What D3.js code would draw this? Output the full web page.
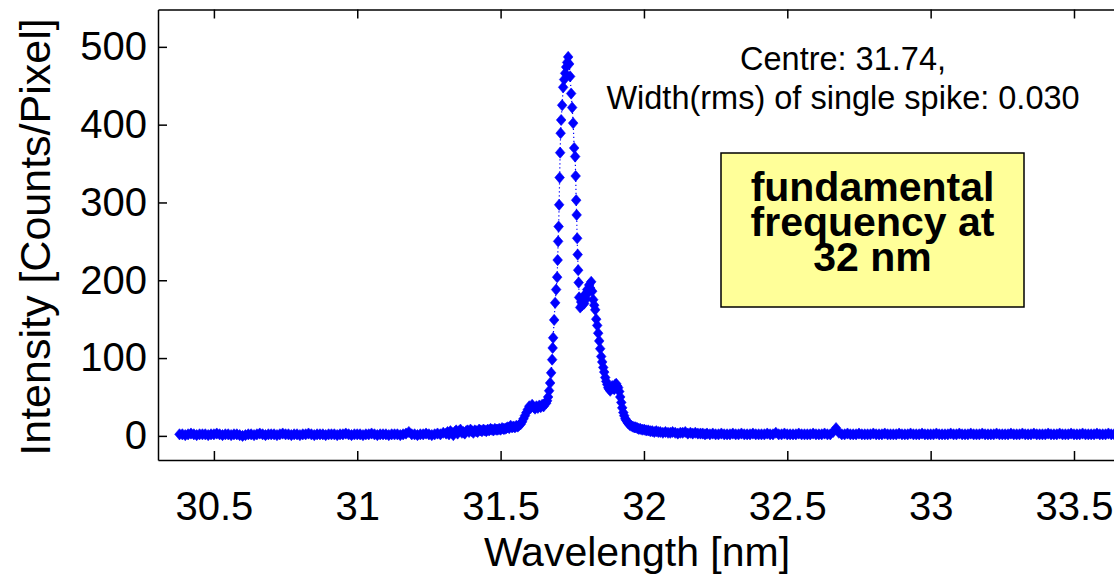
<!DOCTYPE html>
<html>
<head>
<meta charset="utf-8">
<script src="https://cdn.jsdelivr.net/npm/d3@7"></script>
<style>
  body { margin: 0; background: #fff; }
  svg { display: block; font-family: "Liberation Sans", Arial, sans-serif; }
</style>
</head>
<body>
<svg id="chart" width="1114" height="584"></svg>
<script>
// Spectrum: wavelength [nm] and intensity [counts/pixel]
// flat background left of the line
const baseWl = [
  30.38, 30.39, 30.40, 30.41, 30.42, 30.43, 30.44, 30.45, 30.46, 30.47,
  30.48, 30.49, 30.50, 30.51, 30.52, 30.53, 30.54, 30.55, 30.56, 30.57,
  30.58, 30.59, 30.60, 30.61, 30.62, 30.63, 30.64, 30.65, 30.66, 30.67,
  30.68, 30.69, 30.70, 30.71, 30.72, 30.73, 30.74, 30.75, 30.76, 30.77,
  30.78, 30.79, 30.80, 30.81, 30.82, 30.83, 30.84, 30.85, 30.86, 30.87,
  30.88, 30.89, 30.90, 30.91, 30.92, 30.93, 30.94, 30.95, 30.96, 30.97,
  30.98, 30.99, 31.00, 31.01, 31.02, 31.03, 31.04, 31.05, 31.06, 31.07,
  31.08, 31.09, 31.10, 31.11, 31.12, 31.13, 31.14, 31.15, 31.16, 31.17,
  31.18, 31.19, 31.20, 31.21, 31.22, 31.23, 31.24, 31.25, 31.26, 31.27,
  31.28, 31.29, 31.30];
const baseVal = [
  2, 2, 1, 2, 3, 2, 1, 2, 2, 2,
  1, 2, 2, 3, 2, 1, 2, 2, 1, 2,
  2, 1, 0, 1, 2, 2, 1, 2, 3, 2,
  1, 2, 2, 2, 1, 2, 3, 2, 2, 1,
  2, 2, 1, 2, 2, 3, 2, 1, 2, 2,
  2, 1, 2, 2, 2, 1, 2, 2, 3, 2,
  1, 2, 2, 2, 1, 2, 2, 3, 2, 1,
  2, 2, 2, 1, 2, 2, 2, 1, 2, 3,
  5, 2, 2, 1, 2, 2, 3, 2, 1, 2,
  3, 2, 4];

// noisy rise and small shoulder before the line
const shoulderWl = [
  31.310, 31.315, 31.320, 31.325, 31.330, 31.335, 31.340, 31.345, 31.350, 31.355,
  31.360, 31.365, 31.370, 31.375, 31.380, 31.385, 31.390, 31.395, 31.400, 31.405,
  31.410, 31.415, 31.420, 31.425, 31.430, 31.435, 31.440, 31.445, 31.450, 31.455,
  31.460, 31.465, 31.470, 31.475, 31.480, 31.485, 31.490, 31.495, 31.500, 31.505,
  31.510, 31.515, 31.520, 31.525, 31.530, 31.535, 31.540, 31.545, 31.550, 31.555,
  31.560, 31.565, 31.570, 31.575, 31.580, 31.585, 31.590, 31.595, 31.600, 31.605,
  31.610, 31.615, 31.620, 31.625, 31.630, 31.635, 31.640, 31.645, 31.650, 31.655];
const shoulderVal = [
  3, 5, 2, 6, 4, 1, 5, 7, 3, 6,
  8, 4, 5, 3, 6, 7, 5, 8, 6, 4,
  7, 6, 5, 8, 7, 6, 8, 7, 6, 8,
  7, 9, 8, 7, 9, 8, 8, 9, 8, 10,
  9, 9, 10, 11, 10, 13, 11, 12, 11, 13,
  12, 14, 15, 18, 22, 26, 30, 34, 38, 36,
  40, 37, 35, 38, 36, 39, 37, 40, 38, 42];

// main spike and the side structure
const peakWl = [
  31.6588, 31.6623, 31.6658, 31.6693, 31.6728, 31.6763, 31.6798, 31.6816, 31.6833, 31.6868,
  31.6902, 31.6937, 31.6972, 31.6990, 31.7007, 31.7024, 31.7042, 31.7059, 31.7077, 31.7094,
  31.7112, 31.7147, 31.7182, 31.7217, 31.7252, 31.7287, 31.7322, 31.7357,
  31.7392, 31.7426, 31.7461, 31.7496, 31.7531, 31.7566, 31.7601, 31.7618, 31.7636, 31.7653,
  31.7671, 31.7688, 31.7706, 31.7723, 31.7740, 31.7776, 31.7810, 31.7846, 31.7880, 31.7915,
  31.7950, 31.7985, 31.8020, 31.8055, 31.8090, 31.8125, 31.8160, 31.8195, 31.8230, 31.8265,
  31.8300, 31.8335, 31.8370, 31.8404, 31.8440, 31.8474, 31.8510, 31.8544, 31.8580, 31.8614,
  31.8650, 31.8684, 31.8720];
const peakVal = [
  42, 45, 50, 58, 68, 81, 98, 113, 126, 149,
  171, 188, 204, 226, 250, 269, 297, 332, 364, 389,
  406, 425, 448, 458, 466, 474, 480, 487,
  478, 462, 440, 422, 402, 370, 359, 334, 303, 284,
  254, 233, 213, 197, 178, 165, 172, 168, 178, 170,
  182, 176, 188, 184, 194, 190, 198, 186, 175, 168,
  162, 150, 142, 132, 122, 112, 102, 95, 88, 82,
  75, 70, 66];

// second bump and decay
const decayWl = [
  31.8754, 31.8790, 31.8823, 31.8860, 31.8893, 31.8930, 31.8963, 31.9000, 31.9033, 31.9070,
  31.9103, 31.9140, 31.9173, 31.9210, 31.9242, 31.9280, 31.9312, 31.9350, 31.9382, 31.9420,
  31.9452, 31.9500, 31.9557, 31.9610, 31.9662, 31.9710, 31.9766, 31.9820, 31.9871, 31.9940,
  32.001, 32.008, 32.015, 32.022, 32.029, 32.036, 32.043, 32.050, 32.057, 32.066,
  32.075, 32.084, 32.092, 32.100, 32.109, 32.118, 32.127, 32.135, 32.144, 32.153,
  32.162, 32.170, 32.179, 32.188, 32.197, 32.205, 32.213];
const decayVal = [
  62, 60, 58, 62, 64, 61, 60, 66, 67, 64,
  62, 57, 50, 43, 36, 30, 26, 22, 20, 18,
  16, 14, 13, 12, 11, 11, 10, 9, 9, 8,
  8, 7, 7, 6, 6, 5, 6, 5, 5, 4,
  5, 4, 4, 5, 4, 3, 4, 4, 5, 3,
  4, 3, 4, 3, 3, 3, 2];

// flat background right of the line
const tailWl = [
  32.22, 32.23, 32.24, 32.25, 32.26, 32.27, 32.28, 32.29, 32.30, 32.31,
  32.32, 32.33, 32.34, 32.35, 32.36, 32.37, 32.38, 32.39, 32.40, 32.41,
  32.42, 32.43, 32.44, 32.45, 32.46, 32.47, 32.48, 32.49, 32.50, 32.51,
  32.52, 32.53, 32.54, 32.55, 32.56, 32.57, 32.58, 32.59, 32.60, 32.61,
  32.62, 32.63, 32.64, 32.65, 32.66, 32.67, 32.68, 32.69, 32.70, 32.71,
  32.72, 32.73, 32.74, 32.75, 32.76, 32.77, 32.78, 32.79, 32.80, 32.81,
  32.82, 32.83, 32.84, 32.85, 32.86, 32.87, 32.88, 32.89, 32.90, 32.91,
  32.92, 32.93, 32.94, 32.95, 32.96, 32.97, 32.98, 32.99, 33.00, 33.01,
  33.02, 33.03, 33.04, 33.05, 33.06, 33.07, 33.08, 33.09, 33.10, 33.11,
  33.12, 33.13, 33.14, 33.15, 33.16, 33.17, 33.18, 33.19, 33.20, 33.21,
  33.22, 33.23, 33.24, 33.25, 33.26, 33.27, 33.28, 33.29, 33.30, 33.31,
  33.32, 33.33, 33.34, 33.35, 33.36, 33.37, 33.38, 33.39, 33.40, 33.41,
  33.42, 33.43, 33.44, 33.45, 33.46, 33.47, 33.48, 33.49, 33.50, 33.51,
  33.52, 33.53, 33.54, 33.55, 33.56, 33.57, 33.58, 33.59, 33.60, 33.61,
  33.62, 33.63, 33.64, 33.65, 33.66, 33.67, 33.68, 33.69, 33.70, 33.71,
  33.72, 33.73, 33.74, 33.75, 33.76, 33.77, 33.78, 33.79, 33.80];
const tailVal = [
  3, 2, 3, 2, 2, 3, 2, 2, 2, 3,
  2, 2, 3, 2, 2, 2, 3, 2, 2, 2,
  2, 3, 2, 2, 4, 2, 2, 3, 2, 2,
  2, 2, 3, 2, 2, 2, 2, 3, 2, 2,
  2, 3, 2, 2, 5, 10, 4, 2, 2, 3,
  2, 2, 2, 3, 2, 2, 2, 2, 3, 2,
  2, 2, 3, 2, 2, 2, 2, 3, 2, 2,
  2, 3, 2, 2, 2, 3, 2, 2, 2, 2,
  3, 2, 2, 2, 2, 3, 2, 2, 3, 2,
  2, 2, 3, 2, 2, 2, 3, 2, 2, 2,
  2, 3, 2, 2, 2, 2, 3, 2, 2, 2,
  3, 2, 2, 2, 3, 2, 2, 2, 2, 3,
  2, 2, 2, 3, 2, 2, 2, 3, 2, 2,
  2, 3, 2, 2, 2, 2, 3, 2, 2, 2,
  3, 2, 2, 2, 3, 2, 2, 2, 2, 3,
  2, 2, 2, 3, 2, 2, 2, 3, 2];

const xTicks = [30.5, 31, 31.5, 32, 32.5, 33, 33.5];
const yTicks = [0, 100, 200, 300, 400, 500];
const noteLines = ['Centre: 31.74,', 'Width(rms) of single spike: 0.030'];
const boxLines = ['fundamental', 'frequency at', '32 nm'];

const wavelength = [...baseWl, ...shoulderWl, ...peakWl, ...decayWl, ...tailWl];
const intensity = [...baseVal, ...shoulderVal, ...peakVal, ...decayVal, ...tailVal];
const dataset = wavelength.map((w, i) => ({ w: w, v: intensity[i] }));

// Plot frame (right side runs past the picture edge)
const frame = { left: 158, top: 9.5, bottom: 460, right: 1160 };

const svg = d3.select('#chart');

const xScale = d3.scaleLinear().domain([30.305, 33.80]).range([frame.left, frame.right]);
const yScale = d3.scaleLinear().domain([-31, 548]).range([frame.bottom, frame.top]);

// Data: dotted line plus diamond markers
const plot = svg.append('g');

const line = d3.line().x(d => xScale(d.w)).y(d => yScale(d.v));
plot.append('path')
  .datum(dataset)
  .attr('d', line)
  .attr('fill', 'none')
  .attr('stroke', '#0000ff')
  .attr('stroke-width', 1.2)
  .attr('stroke-dasharray', '1.2,2.8');

plot.selectAll('.pt')
  .data(dataset)
  .enter()
  .append('path')
  .attr('class', 'pt')
  .attr('d', 'M0,-5.6L4.8,0L0,5.6L-4.8,0Z')
  .attr('transform', d => `translate(${xScale(d.w)},${yScale(d.v)})`)
  .attr('fill', '#0000ff')
  .attr('stroke', '#0000ff')
  .attr('stroke-width', 0.6);

// Axes, ticks pointing inward
const fmt = d3.format('~g');
const xAxis = d3.axisBottom(xScale).tickValues(xTicks).tickFormat(fmt)
  .tickSizeInner(-9).tickSizeOuter(0).tickPadding(32);
const yAxis = d3.axisLeft(yScale).tickValues(yTicks).tickFormat(fmt)
  .tickSizeInner(-9).tickSizeOuter(0).tickPadding(11);
const xTop = d3.axisTop(xScale).tickValues(xTicks).tickFormat('')
  .tickSizeInner(-9).tickSizeOuter(0);
const yRight = d3.axisRight(yScale).tickValues(yTicks).tickFormat('')
  .tickSizeInner(-9).tickSizeOuter(0);

svg.append('g').attr('transform', `translate(0,${frame.bottom})`).call(xAxis);
svg.append('g').attr('transform', `translate(${frame.left},0)`).call(yAxis);
svg.append('g').attr('transform', `translate(0,${frame.top})`).call(xTop);
svg.append('g').attr('transform', `translate(${frame.right},0)`).call(yRight);

svg.selectAll('.domain, .tick line')
  .attr('stroke', '#000')
  .attr('stroke-width', 1.5);
svg.selectAll('.tick text')
  .attr('fill', '#000')
  .style('font-size', '40px')
  .style('font-family', '"Liberation Sans", Arial, sans-serif');

// Axis labels
svg.append('text')
  .attr('x', 637)
  .attr('y', 566)
  .attr('text-anchor', 'middle')
  .style('font-size', '41px')
  .text('Wavelength [nm]');

svg.append('text')
  .attr('transform', 'translate(50,237) rotate(-90)')
  .attr('text-anchor', 'middle')
  .style('font-size', '43px')
  .text('Intensity [Counts/Pixel]');

// Fit note
svg.append('g').selectAll('text')
  .data(noteLines)
  .enter()
  .append('text')
  .attr('x', 843)
  .attr('y', (d, i) => 70 + i * 39)
  .attr('text-anchor', 'middle')
  .style('font-size', '32.5px')
  .text(d => d);

// Yellow callout
const box = svg.append('g');
box.append('rect')
  .attr('x', 721)
  .attr('y', 153)
  .attr('width', 303)
  .attr('height', 154)
  .attr('fill', '#ffff99')
  .attr('stroke', '#000')
  .attr('stroke-width', 1.5);

box.selectAll('text')
  .data(boxLines)
  .enter()
  .append('text')
  .attr('x', 872.5)
  .attr('y', (d, i) => 201 + i * 35)
  .attr('text-anchor', 'middle')
  .style('font-size', '41px')
  .style('font-weight', 'bold')
  .text(d => d);
</script>
</body>
</html>
